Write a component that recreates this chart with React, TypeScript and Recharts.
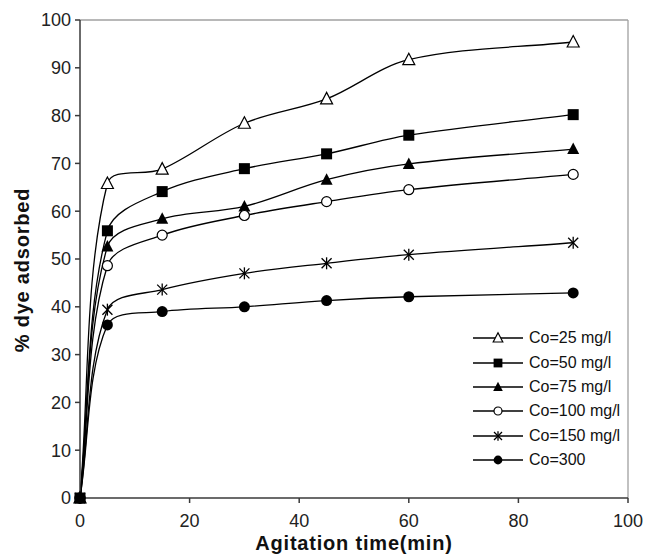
import React from 'react';
import { LineChart, Line, XAxis, YAxis, ReferenceLine, Legend, Label } from 'recharts';

document.body.style.margin = '0';

const times = [0, 5, 15, 30, 45, 60, 90];
const co25 = [0, 65.8, 68.8, 78.4, 83.5, 91.7, 95.4];
const co50 = [0, 55.9, 64.1, 68.9, 72.0, 75.9, 80.2];
const co75 = [0, 52.6, 58.4, 61.0, 66.6, 69.9, 73.0];
const co100 = [0, 48.6, 55.0, 59.1, 62.0, 64.5, 67.7];
const co150 = [0, 39.4, 43.6, 47.0, 49.1, 50.9, 53.4];
const co300 = [0, 36.2, 39.0, 40.0, 41.3, 42.1, 42.9];

const xTicks = [0, 20, 40, 60, 80, 100];
const yTicks = [0, 10, 20, 30, 40, 50, 60, 70, 80, 90, 100];

const series = [
  { key: 'c25', name: 'Co=25 mg/l', values: co25, shape: 'triangleOpen' },
  { key: 'c50', name: 'Co=50 mg/l', values: co50, shape: 'square' },
  { key: 'c75', name: 'Co=75 mg/l', values: co75, shape: 'triangle' },
  { key: 'c100', name: 'Co=100 mg/l', values: co100, shape: 'circleOpen' },
  { key: 'c150', name: 'Co=150 mg/l', values: co150, shape: 'star' },
  { key: 'c300', name: 'Co=300', values: co300, shape: 'circle' },
];

// draw order: the square sits on top at the origin
const drawOrder = ['c25', 'c75', 'c100', 'c150', 'c300', 'c50'];

const data = times.map((t, i) => {
  const row: any = { t };
  series.forEach((s) => (row[s.key] = s.values[i]));
  return row;
});

// Excel-like smoothed line: cubic bezier, tangents from neighbours weighted by segment length
const excelCurve = (context: any) => {
  let xs: number[] = [];
  let ys: number[] = [];
  return {
    areaStart() {},
    areaEnd() {},
    lineStart() {
      xs = [];
      ys = [];
    },
    point(x: number, y: number) {
      xs.push(+x);
      ys.push(+y);
    },
    lineEnd() {
      const n = xs.length;
      if (!n) return;
      context.moveTo(xs[0], ys[0]);
      if (n === 1) return;
      const dist = (a: number, b: number) => Math.hypot(xs[b] - xs[a], ys[b] - ys[a]);
      for (let i = 0; i < n - 1; i++) {
        const dCur = dist(i, i + 1);
        let c1x, c1y, c2x, c2y;
        if (i === 0) {
          c1x = xs[0] + (xs[1] - xs[0]) / 3;
          c1y = ys[0] + (ys[1] - ys[0]) / 3;
        } else {
          const dPrev = dist(i - 1, i);
          const k = dCur / (dPrev + dCur) / 3;
          c1x = xs[i] + (xs[i + 1] - xs[i - 1]) * k;
          c1y = ys[i] + (ys[i + 1] - ys[i - 1]) * k;
        }
        if (i + 2 >= n) {
          c2x = xs[i + 1] - (xs[i + 1] - xs[i]) / 3;
          c2y = ys[i + 1] - (ys[i + 1] - ys[i]) / 3;
        } else {
          const dNext = dist(i + 1, i + 2);
          const k = dCur / (dCur + dNext) / 3;
          c2x = xs[i + 1] - (xs[i + 2] - xs[i]) * k;
          c2y = ys[i + 1] - (ys[i + 2] - ys[i]) * k;
        }
        context.bezierCurveTo(c1x, c1y, c2x, c2y, xs[i + 1], ys[i + 1]);
      }
    },
  };
};

function Marker({ shape, cx, cy, s = 1 }: { shape: string; cx: number; cy: number; s?: number }) {
  const sw = 1.2;
  switch (shape) {
    case 'triangleOpen':
      return (
        <polygon
          points={`${cx},${cy - 6.5 * s} ${cx + 6 * s},${cy + 5 * s} ${cx - 6 * s},${cy + 5 * s}`}
          fill="#fff"
          stroke="#000"
          strokeWidth={sw}
        />
      );
    case 'triangle':
      return (
        <polygon
          points={`${cx},${cy - 6.5 * s} ${cx + 6 * s},${cy + 5 * s} ${cx - 6 * s},${cy + 5 * s}`}
          fill="#000"
        />
      );
    case 'square':
      return <rect x={cx - 5.5 * s} y={cy - 5.5 * s} width={11 * s} height={11 * s} fill="#000" />;
    case 'circleOpen':
      return <circle cx={cx} cy={cy} r={5 * s} fill="#fff" stroke="#000" strokeWidth={sw} />;
    case 'circle':
      return <circle cx={cx} cy={cy} r={5.5 * s} fill="#000" />;
    case 'star':
      return (
        <g stroke="#000" strokeWidth={1.3}>
          <line x1={cx - 5 * s} y1={cy - 5 * s} x2={cx + 5 * s} y2={cy + 5 * s} />
          <line x1={cx - 5 * s} y1={cy + 5 * s} x2={cx + 5 * s} y2={cy - 5 * s} />
          <line x1={cx} y1={cy - 6 * s} x2={cx} y2={cy + 6 * s} />
        </g>
      );
    default:
      return null;
  }
}

const font = '"Liberation Sans", Arial, sans-serif';

function LegendBox() {
  return (
    <div style={{ fontFamily: font, fontSize: 16, color: '#111' }}>
      {series.map((s) => (
        <div key={s.key} style={{ height: 24.4, display: 'flex', alignItems: 'center' }}>
          <svg width={56} height={20} style={{ display: 'block' }}>
            <line x1={0} y1={10} x2={50} y2={10} stroke="#000" strokeWidth={1.3} />
            <Marker shape={s.shape} cx={25} cy={10} s={0.8} />
          </svg>
          <span style={{ whiteSpace: 'nowrap' }}>{s.name}</span>
        </div>
      ))}
    </div>
  );
}

export default function App() {
  return (
    <LineChart
      width={645}
      height={555}
      data={data}
      margin={{ top: 20, right: 17, bottom: 0, left: 0 }}
      style={{ fontFamily: font }}
    >
      <XAxis
        dataKey="t"
        type="number"
        domain={[0, 100]}
        ticks={xTicks}
        stroke="#3a3a3a"
        strokeWidth={1.5}
        tickSize={5}
        tickMargin={11}
        tick={{ fill: '#222', fontSize: 18 }}
        height={57}
      >
        <Label
          value="Agitation time(min)"
          position="insideBottom"
          offset={5}
          style={{ fontSize: 20, fontWeight: 'bold', fill: '#111', letterSpacing: 0.8 }}
        />
      </XAxis>
      <YAxis
        type="number"
        domain={[0, 100]}
        ticks={yTicks}
        stroke="#3a3a3a"
        strokeWidth={1.5}
        tickSize={5}
        tickMargin={4}
        tick={{ fill: '#222', fontSize: 18 }}
        width={80}
      >
        <Label
          value="% dye adsorbed"
          angle={-90}
          position="insideLeft"
          offset={22}
          dy={11}
          style={{ fontSize: 20, fontWeight: 'bold', fill: '#111', letterSpacing: 0.8, textAnchor: 'middle' }}
        />
      </YAxis>
      <ReferenceLine y={100} stroke="#a0a0a0" strokeWidth={1.3} />
      <ReferenceLine x={100} stroke="#a0a0a0" strokeWidth={1.3} />
      {drawOrder.map((k) => {
        const s = series.find((x) => x.key === k)!;
        return (
          <Line
            key={s.key}
            dataKey={s.key}
            name={s.name}
            type={excelCurve as any}
            stroke="#000"
            strokeWidth={1.3}
            isAnimationActive={false}
            dot={(p: any) => <Marker key={`${s.key}-${p.index}`} shape={s.shape} cx={p.cx} cy={p.cy} />}
            activeDot={false}
          />
        );
      })}
      <Legend
        layout="vertical"
        align="center"
        verticalAlign="middle"
        content={() => <LegendBox />}
        wrapperStyle={{ left: 473, top: 326, width: 165, height: 150 }}
      />
    </LineChart>
  );
}
